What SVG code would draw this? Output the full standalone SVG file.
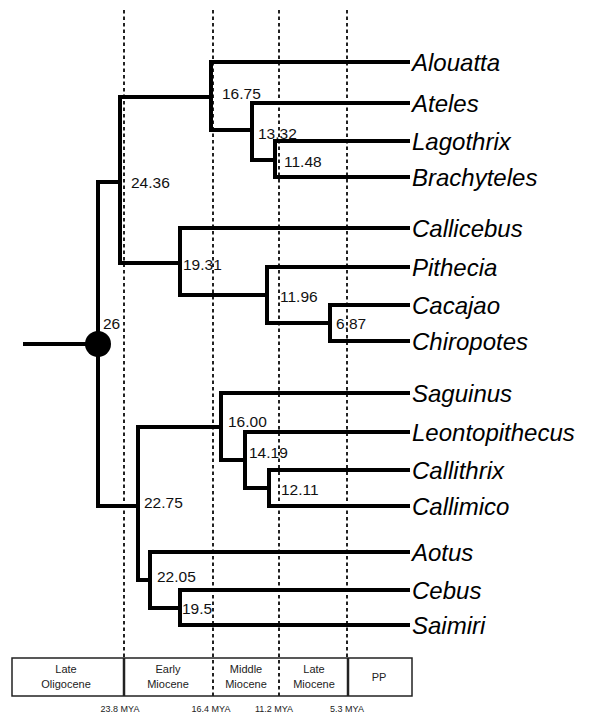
<svg xmlns="http://www.w3.org/2000/svg" width="593" height="715" viewBox="0 0 593 715">
<style>
.grid{stroke:#222;stroke-width:2;stroke-dasharray:3.5 3;fill:none}
.br{stroke:#000;stroke-width:4;fill:none;stroke-linejoin:miter}
.leaf{font-family:"Liberation Sans",Arial,sans-serif;font-style:italic;font-size:24px;fill:#000}
.nl{font-family:"Liberation Sans",Arial,sans-serif;font-size:15.5px;fill:#111}
.ep{font-family:"Liberation Sans",Arial,sans-serif;font-size:11px;fill:#222;text-anchor:middle}
.my{font-family:"Liberation Sans",Arial,sans-serif;font-size:9px;fill:#222;text-anchor:middle}
</style>
<rect width="593" height="715" fill="#fff"/>
<g id="grid">
<line class="grid" x1="124" y1="10" x2="124" y2="658"/>
<line class="grid" x1="213" y1="10" x2="213" y2="696"/>
<line class="grid" x1="279" y1="10" x2="279" y2="696"/>
<line class="grid" x1="347" y1="10" x2="347" y2="658"/>
</g>
<g id="connectors">
<path class="br" d="M23 344 H98"/>
<path class="br" d="M120 182 H98 V506 H138"/>
<path class="br" d="M211 97 H120 V263 H180"/>
<path class="br" d="M410 62 H211 V130 H252"/>
<path class="br" d="M410 103 H252 V160 H275"/>
<path class="br" d="M410 141 H275 V177 H410"/>
<path class="br" d="M410 228 H180 V295 H267"/>
<path class="br" d="M410 267 H267 V323 H330"/>
<path class="br" d="M410 305 H330 V341 H410"/>
<path class="br" d="M221 427 H138 V580 H150"/>
<path class="br" d="M410 393 H221 V460 H245"/>
<path class="br" d="M410 432 H245 V488 H269"/>
<path class="br" d="M410 470 H269 V506 H410"/>
<path class="br" d="M410 552 H150 V608 H180"/>
<path class="br" d="M410 590 H180 V625 H410"/>
</g>
<g id="root"><circle cx="98" cy="344" r="13" fill="#000"/><text class="nl" x="103" y="329">26</text></g>
<g id="n2436"><text class="nl" x="131" y="188">24.36</text></g>
<g id="n1675"><text class="nl" x="222" y="99">16.75</text></g>
<g id="n1332"><text class="nl" x="258" y="139">13.32</text></g>
<g id="n1148"><text class="nl" x="284" y="167">11.48</text></g>
<g id="n1931"><text class="nl" x="183" y="270">19.31</text></g>
<g id="n1196"><text class="nl" x="280" y="302">11.96</text></g>
<g id="n687"><text class="nl" x="336" y="329">6.87</text></g>
<g id="n2275"><text class="nl" x="144" y="508">22.75</text></g>
<g id="n1600"><text class="nl" x="228" y="427">16.00</text></g>
<g id="n1419"><text class="nl" x="249" y="458">14.19</text></g>
<g id="n1211"><text class="nl" x="281" y="495">12.11</text></g>
<g id="n2205"><text class="nl" x="157" y="582">22.05</text></g>
<g id="n195"><text class="nl" x="182" y="614">19.5</text></g>
<g id="Alouatta"><text class="leaf" x="412" y="71">Alouatta</text></g>
<g id="Ateles"><text class="leaf" x="412" y="112">Ateles</text></g>
<g id="Lagothrix"><text class="leaf" x="412" y="150">Lagothrix</text></g>
<g id="Brachyteles"><text class="leaf" x="412" y="186">Brachyteles</text></g>
<g id="Callicebus"><text class="leaf" x="412" y="237">Callicebus</text></g>
<g id="Pithecia"><text class="leaf" x="412" y="276">Pithecia</text></g>
<g id="Cacajao"><text class="leaf" x="412" y="314">Cacajao</text></g>
<g id="Chiropotes"><text class="leaf" x="412" y="350">Chiropotes</text></g>
<g id="Saguinus"><text class="leaf" x="412" y="402">Saguinus</text></g>
<g id="Leontopithecus"><text class="leaf" x="412" y="441">Leontopithecus</text></g>
<g id="Callithrix"><text class="leaf" x="412" y="479">Callithrix</text></g>
<g id="Callimico"><text class="leaf" x="412" y="515">Callimico</text></g>
<g id="Aotus"><text class="leaf" x="412" y="561">Aotus</text></g>
<g id="Cebus"><text class="leaf" x="412" y="599">Cebus</text></g>
<g id="Saimiri"><text class="leaf" x="412" y="634">Saimiri</text></g>
<g id="timescale">
<rect x="12" y="658" width="400" height="38" fill="none" stroke="#222" stroke-width="1.5"/>
<line x1="124" y1="658" x2="124" y2="696" stroke="#222" stroke-width="2.5"/>
<line x1="348" y1="658" x2="348" y2="696" stroke="#222" stroke-width="2.5"/>
<text class="ep" x="66" y="673">Late</text><text class="ep" x="66" y="688">Oligocene</text>
<text class="ep" x="168" y="673">Early</text><text class="ep" x="168" y="688">Miocene</text>
<text class="ep" x="246" y="673">Middle</text><text class="ep" x="246" y="688">Miocene</text>
<text class="ep" x="314" y="673">Late</text><text class="ep" x="314" y="688">Miocene</text>
<text class="ep" x="379" y="681">PP</text>
<text class="my" x="120" y="712">23.8 MYA</text>
<text class="my" x="211" y="712">16.4 MYA</text>
<text class="my" x="274" y="712">11.2 MYA</text>
<text class="my" x="347" y="712">5.3 MYA</text>
</g>
</svg>
